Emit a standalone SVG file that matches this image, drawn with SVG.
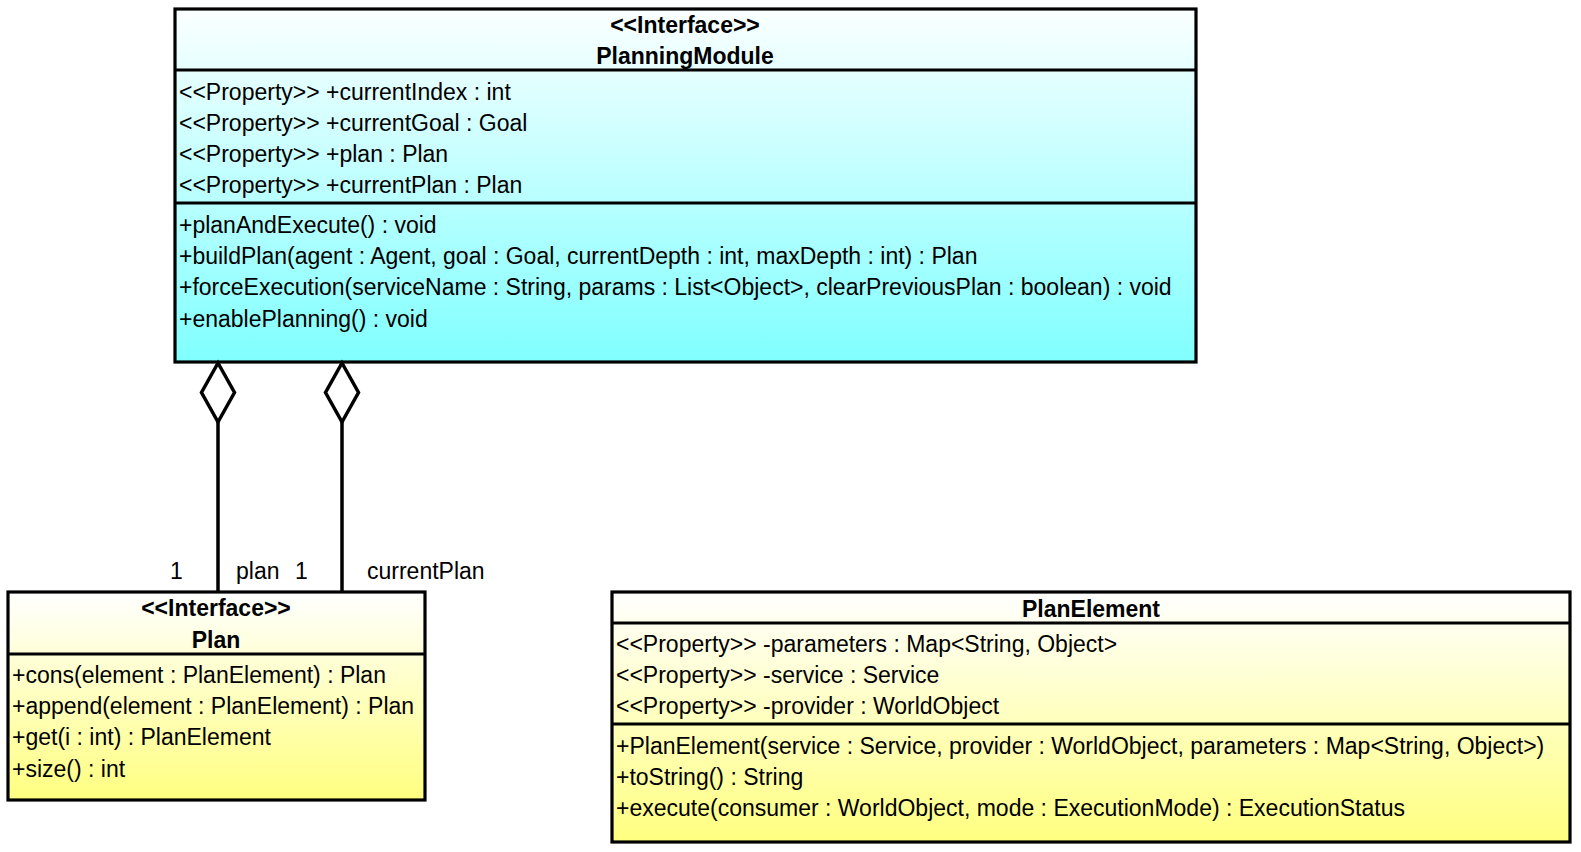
<svg xmlns="http://www.w3.org/2000/svg" width="1581" height="852" viewBox="0 0 1581 852">
<style>
text{font-family:"Liberation Sans",Arial,sans-serif;font-size:23px;fill:#000}
.t{font-weight:bold;text-anchor:middle}
.box{stroke:#000;stroke-width:3.2}
.sep{stroke:#000;stroke-width:3.2}
.conn{stroke:#000;stroke-width:3.5;fill:none}
.dia{stroke:#000;stroke-width:3.5;fill:#fff;stroke-linejoin:miter}
</style>
<defs>
<linearGradient id="gc" x1="0" y1="0" x2="0" y2="1"><stop offset="0" stop-color="#fbffff"/><stop offset="1" stop-color="#80ffff"/></linearGradient>
<linearGradient id="gy" x1="0" y1="0" x2="0" y2="1"><stop offset="0" stop-color="#ffffff"/><stop offset="1" stop-color="#ffff80"/></linearGradient>
</defs>
<g id="PlanningModule">
<rect class="box" x="175" y="9" width="1021" height="353" fill="url(#gc)"/>
<line class="sep" x1="175" y1="70" x2="1196" y2="70"/>
<line class="sep" x1="175" y1="203" x2="1196" y2="203"/>
<text class="t" x="685" y="33">&lt;&lt;Interface&gt;&gt;</text>
<text class="t" x="685" y="64">PlanningModule</text>
<text x="179" y="100">&lt;&lt;Property&gt;&gt; +currentIndex : int</text>
<text x="179" y="131">&lt;&lt;Property&gt;&gt; +currentGoal : Goal</text>
<text x="179" y="162">&lt;&lt;Property&gt;&gt; +plan : Plan</text>
<text x="179" y="193">&lt;&lt;Property&gt;&gt; +currentPlan : Plan</text>
<text x="179" y="233">+planAndExecute() : void</text>
<text x="179" y="264">+buildPlan(agent : Agent, goal : Goal, currentDepth : int, maxDepth : int) : Plan</text>
<text x="179" y="295">+forceExecution(serviceName : String, params : List&lt;Object&gt;, clearPreviousPlan : boolean) : void</text>
<text x="179" y="327">+enablePlanning() : void</text>
</g>
<g id="Plan">
<rect class="box" x="8" y="592" width="417" height="208" fill="url(#gy)"/>
<line class="sep" x1="8" y1="654" x2="425" y2="654"/>
<text class="t" x="216" y="616">&lt;&lt;Interface&gt;&gt;</text>
<text class="t" x="216" y="648">Plan</text>
<text x="12" y="683">+cons(element : PlanElement) : Plan</text>
<text x="12" y="714">+append(element : PlanElement) : Plan</text>
<text x="12" y="745">+get(i : int) : PlanElement</text>
<text x="12" y="777">+size() : int</text>
</g>
<g id="PlanElement">
<rect class="box" x="612" y="592" width="958" height="250" fill="url(#gy)"/>
<line class="sep" x1="612" y1="623" x2="1570" y2="623"/>
<line class="sep" x1="612" y1="724" x2="1570" y2="724"/>
<text class="t" x="1091" y="617">PlanElement</text>
<text x="616" y="652">&lt;&lt;Property&gt;&gt; -parameters : Map&lt;String, Object&gt;</text>
<text x="616" y="683">&lt;&lt;Property&gt;&gt; -service : Service</text>
<text x="616" y="714">&lt;&lt;Property&gt;&gt; -provider : WorldObject</text>
<text x="616" y="754">+PlanElement(service : Service, provider : WorldObject, parameters : Map&lt;String, Object&gt;)</text>
<text x="616" y="785">+toString() : String</text>
<text x="616" y="816">+execute(consumer : WorldObject, mode : ExecutionMode) : ExecutionStatus</text>
</g>
<g id="connectors">
<line class="conn" x1="218" y1="422" x2="218" y2="592"/>
<path class="dia" d="M218,363 L234.5,392.5 L218,422 L201.5,392.5 Z"/>
<line class="conn" x1="342" y1="422" x2="342" y2="592"/>
<path class="dia" d="M342,363 L358.5,392.5 L342,422 L325.5,392.5 Z"/>
<text x="170" y="579">1</text>
<text x="236" y="579">plan</text>
<text x="295" y="579">1</text>
<text x="367" y="579">currentPlan</text>
</g>
</svg>
